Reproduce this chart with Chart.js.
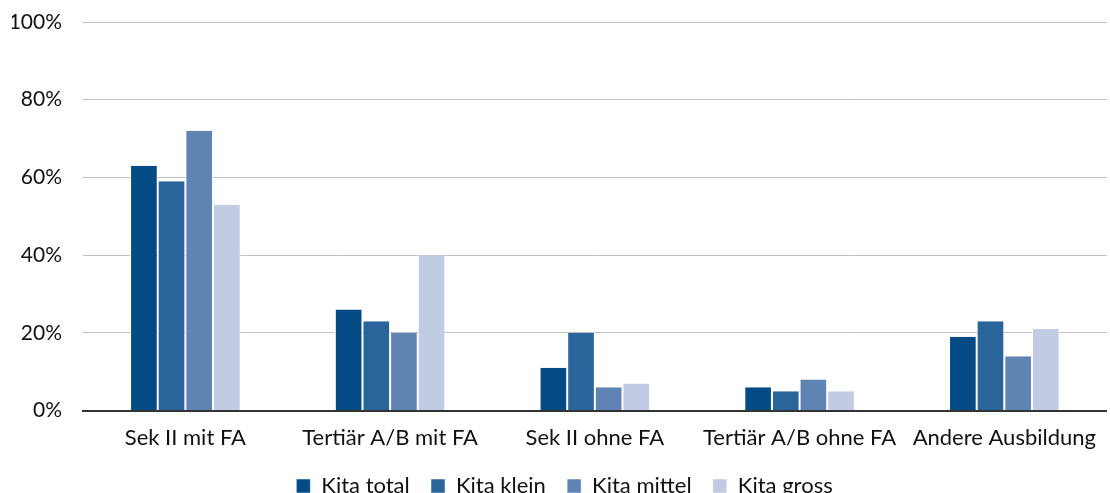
<!DOCTYPE html>
<html>
<head>
<meta charset="utf-8">
<script src="https://cdn.jsdelivr.net/npm/chart.js@4"></script>
<style>
  html, body { margin: 0; padding: 0; background: #fff; }
  #wrap { width: 1110px; height: 493px; }
</style>
</head>
<body>
<div id="wrap"><canvas id="chart"></canvas></div>
<script>
const categories = ["Sek II mit FA", "Tertiär A/B mit FA", "Sek II ohne FA", "Tertiär A/B ohne FA", "Andere Ausbildung"];
const kitaTotal  = [63, 26, 11, 6, 19];
const kitaKlein  = [59, 23, 20, 5, 23];
const kitaMittel = [72, 20, 6, 8, 14];
const kitaGross  = [53, 40, 7, 5, 21];
const yTicks = [0, 20, 40, 60, 80, 100];

const font = "Lato, 'Open Sans', sans-serif";

function ds(label, data, color) {
  return {
    label, data,
    backgroundColor: color,
    borderColor: '#ffffff',
    borderWidth: { left: 1, right: 1, top: 0, bottom: 0 },
    borderSkipped: false,
    categoryPercentage: 0.54,
    barPercentage: 1.0
  };
}

const ctx = document.getElementById('chart').getContext('2d');
new Chart(ctx, {
  type: 'bar',
  data: {
    labels: categories,
    datasets: [
      ds('Kita total', kitaTotal, '#044b85'),
      ds('Kita klein', kitaKlein, '#29649b'),
      ds('Kita mittel', kitaMittel, '#5f84b4'),
      ds('Kita gross', kitaGross, '#c1cbe3')
    ]
  },
  options: {
    responsive: true,
    maintainAspectRatio: false,
    animation: false,
    layout: { padding: { left: 12, right: -7, top: 0, bottom: -14 } },
    plugins: {
      tooltip: { enabled: false },
      legend: {
        position: 'bottom',
        labels: {
          font: { family: font, size: 22 },
          color: '#111',
          boxWidth: 14,
          boxHeight: 14,
          padding: 10,
          useBorderRadius: false,
          // extra room between legend items (padding also sets vertical spacing)
          generateLabels: chart => Chart.defaults.plugins.legend.labels.generateLabels(chart)
            .map((l, i, arr) => ({ ...l, text: i < arr.length - 1 ? l.text + '  ' : l.text }))
        }
      }
    },
    scales: {
      x: {
        grid: { display: false, drawTicks: false },
        border: { color: '#333', width: 2 },
        ticks: { font: { family: font, size: 22 }, color: '#111', padding: 14, maxRotation: 0 }
      },
      y: {
        min: 0, max: 100,
        afterBuildTicks: axis => { axis.ticks = yTicks.map(v => ({ value: v })); },
        afterFit: axis => { axis.width = 71; axis.paddingTop = 22; },
        grid: { color: '#c0c0c0', lineWidth: 1, drawTicks: false },
        border: { display: false },
        ticks: { font: { family: font, size: 21 }, color: '#111', padding: 21, callback: v => v + '%' }
      }
    }
  }
});
</script>
</body>
</html>
